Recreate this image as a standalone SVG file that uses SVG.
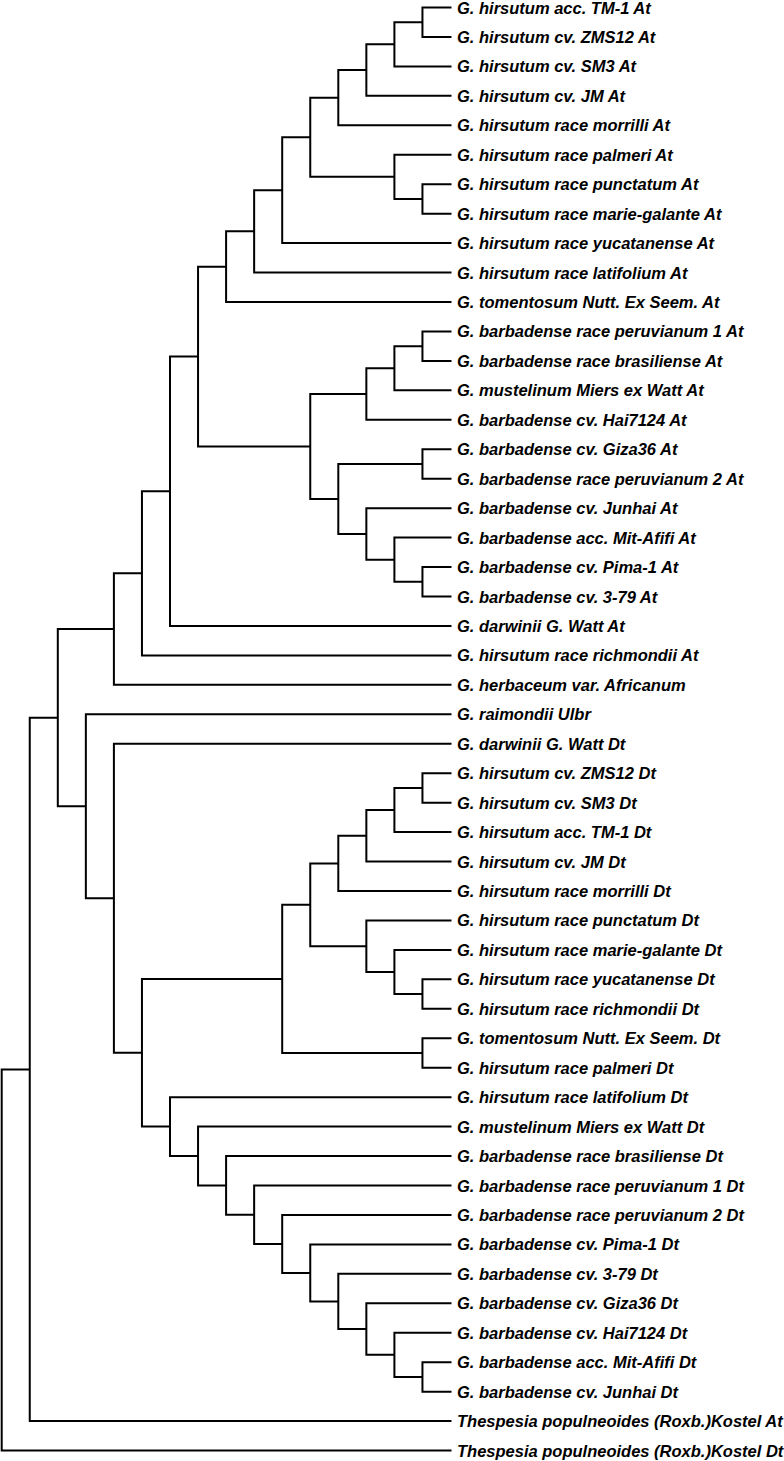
<svg xmlns="http://www.w3.org/2000/svg" width="784" height="1461" viewBox="0 0 784 1461">
<style>
.e{fill:none;stroke:#000;stroke-width:2;stroke-linejoin:miter}
text{font-family:"Liberation Sans",Arial,sans-serif;font-size:16.5px;font-weight:bold;font-style:italic;fill:#000}
</style>
<rect width="784" height="1461" fill="#fff"/>
<g id="connectors" class="e">
<path d="M451.5 7.5H422.45V36.95H451.5"/>
<path d="M422.45 22.23H394.4V66.4H451.5"/>
<path d="M394.4 44.31H366.35V95.85H451.5"/>
<path d="M366.35 70.08H338.3V125.3H451.5"/>
<path d="M451.5 184.2H422.45V213.65H451.5"/>
<path d="M451.5 154.75H394.4V198.93H422.45"/>
<path d="M338.3 97.69H310.25V176.84H394.4"/>
<path d="M310.25 137.26H282.2V243.1H451.5"/>
<path d="M282.2 190.18H254.15V272.55H451.5"/>
<path d="M254.15 231.37H226.1V302H451.5"/>
<path d="M451.5 331.45H422.45V360.9H451.5"/>
<path d="M422.45 346.18H394.4V390.35H451.5"/>
<path d="M394.4 368.26H366.35V419.8H451.5"/>
<path d="M451.5 449.25H422.45V478.7H451.5"/>
<path d="M451.5 567.05H422.45V596.5H451.5"/>
<path d="M451.5 537.6H394.4V581.78H422.45"/>
<path d="M451.5 508.15H366.35V559.69H394.4"/>
<path d="M422.45 463.98H338.3V533.92H366.35"/>
<path d="M366.35 394.03H310.25V498.95H338.3"/>
<path d="M226.1 266.68H198.05V446.49H310.25"/>
<path d="M198.05 356.59H170V625.95H451.5"/>
<path d="M170 491.27H141.95V655.4H451.5"/>
<path d="M141.95 573.34H113.9V684.85H451.5"/>
<path d="M451.5 773.2H422.45V802.65H451.5"/>
<path d="M422.45 787.93H394.4V832.1H451.5"/>
<path d="M394.4 810.01H366.35V861.55H451.5"/>
<path d="M366.35 835.78H338.3V891H451.5"/>
<path d="M451.5 979.35H422.45V1008.8H451.5"/>
<path d="M451.5 949.9H394.4V994.08H422.45"/>
<path d="M451.5 920.45H366.35V971.99H394.4"/>
<path d="M338.3 863.39H310.25V946.22H366.35"/>
<path d="M451.5 1038.25H422.45V1067.7H451.5"/>
<path d="M310.25 904.8H282.2V1052.98H422.45"/>
<path d="M451.5 1362.2H422.45V1391.65H451.5"/>
<path d="M451.5 1332.75H394.4V1376.93H422.45"/>
<path d="M451.5 1303.3H366.35V1354.84H394.4"/>
<path d="M451.5 1273.85H338.3V1329.07H366.35"/>
<path d="M451.5 1244.4H310.25V1301.46H338.3"/>
<path d="M451.5 1214.95H282.2V1272.93H310.25"/>
<path d="M451.5 1185.5H254.15V1243.94H282.2"/>
<path d="M451.5 1156.05H226.1V1214.72H254.15"/>
<path d="M451.5 1126.6H198.05V1185.39H226.1"/>
<path d="M451.5 1097.15H170V1156H198.05"/>
<path d="M282.2 978.89H141.95V1126.58H170"/>
<path d="M451.5 743.75H113.9V1052.74H141.95"/>
<path d="M451.5 714.3H85.85V898.25H113.9"/>
<path d="M113.9 629.1H57.8V806.28H85.85"/>
<path d="M57.8 717.69H29.75V1421.1H451.5"/>
<path d="M29.75 1069.4H1.7V1450.55H451.5"/>
</g>
<g id="leaf-0"><text x="457" y="13.5">G. hirsutum acc. TM-1 At</text></g>
<g id="leaf-1"><text x="457" y="42.95">G. hirsutum cv. ZMS12 At</text></g>
<g id="leaf-2"><text x="457" y="72.4">G. hirsutum cv. SM3 At</text></g>
<g id="leaf-3"><text x="457" y="101.85">G. hirsutum cv. JM At</text></g>
<g id="leaf-4"><text x="457" y="131.3">G. hirsutum race morrilli At</text></g>
<g id="leaf-5"><text x="457" y="160.75">G. hirsutum race palmeri At</text></g>
<g id="leaf-6"><text x="457" y="190.2">G. hirsutum race punctatum At</text></g>
<g id="leaf-7"><text x="457" y="219.65">G. hirsutum race marie-galante At</text></g>
<g id="leaf-8"><text x="457" y="249.1">G. hirsutum race yucatanense At</text></g>
<g id="leaf-9"><text x="457" y="278.55">G. hirsutum race latifolium At</text></g>
<g id="leaf-10"><text x="457" y="308">G. tomentosum Nutt. Ex Seem. At</text></g>
<g id="leaf-11"><text x="457" y="337.45">G. barbadense race peruvianum 1 At</text></g>
<g id="leaf-12"><text x="457" y="366.9">G. barbadense race brasiliense At</text></g>
<g id="leaf-13"><text x="457" y="396.35">G. mustelinum Miers ex Watt At</text></g>
<g id="leaf-14"><text x="457" y="425.8">G. barbadense cv. Hai7124 At</text></g>
<g id="leaf-15"><text x="457" y="455.25">G. barbadense cv. Giza36 At</text></g>
<g id="leaf-16"><text x="457" y="484.7">G. barbadense race peruvianum 2 At</text></g>
<g id="leaf-17"><text x="457" y="514.15">G. barbadense cv. Junhai At</text></g>
<g id="leaf-18"><text x="457" y="543.6">G. barbadense acc. Mit-Afifi At</text></g>
<g id="leaf-19"><text x="457" y="573.05">G. barbadense cv. Pima-1 At</text></g>
<g id="leaf-20"><text x="457" y="602.5">G. barbadense cv. 3-79 At</text></g>
<g id="leaf-21"><text x="457" y="631.95">G. darwinii G. Watt At</text></g>
<g id="leaf-22"><text x="457" y="661.4">G. hirsutum race richmondii At</text></g>
<g id="leaf-23"><text x="457" y="690.85">G. herbaceum var. Africanum</text></g>
<g id="leaf-24"><text x="457" y="720.3">G. raimondii Ulbr</text></g>
<g id="leaf-25"><text x="457" y="749.75">G. darwinii G. Watt Dt</text></g>
<g id="leaf-26"><text x="457" y="779.2">G. hirsutum cv. ZMS12 Dt</text></g>
<g id="leaf-27"><text x="457" y="808.65">G. hirsutum cv. SM3 Dt</text></g>
<g id="leaf-28"><text x="457" y="838.1">G. hirsutum acc. TM-1 Dt</text></g>
<g id="leaf-29"><text x="457" y="867.55">G. hirsutum cv. JM Dt</text></g>
<g id="leaf-30"><text x="457" y="897">G. hirsutum race morrilli Dt</text></g>
<g id="leaf-31"><text x="457" y="926.45">G. hirsutum race punctatum Dt</text></g>
<g id="leaf-32"><text x="457" y="955.9">G. hirsutum race marie-galante Dt</text></g>
<g id="leaf-33"><text x="457" y="985.35">G. hirsutum race yucatanense Dt</text></g>
<g id="leaf-34"><text x="457" y="1014.8">G. hirsutum race richmondii Dt</text></g>
<g id="leaf-35"><text x="457" y="1044.25">G. tomentosum Nutt. Ex Seem. Dt</text></g>
<g id="leaf-36"><text x="457" y="1073.7">G. hirsutum race palmeri Dt</text></g>
<g id="leaf-37"><text x="457" y="1103.15">G. hirsutum race latifolium Dt</text></g>
<g id="leaf-38"><text x="457" y="1132.6">G. mustelinum Miers ex Watt Dt</text></g>
<g id="leaf-39"><text x="457" y="1162.05">G. barbadense race brasiliense Dt</text></g>
<g id="leaf-40"><text x="457" y="1191.5">G. barbadense race peruvianum 1 Dt</text></g>
<g id="leaf-41"><text x="457" y="1220.95">G. barbadense race peruvianum 2 Dt</text></g>
<g id="leaf-42"><text x="457" y="1250.4">G. barbadense cv. Pima-1 Dt</text></g>
<g id="leaf-43"><text x="457" y="1279.85">G. barbadense cv. 3-79 Dt</text></g>
<g id="leaf-44"><text x="457" y="1309.3">G. barbadense cv. Giza36 Dt</text></g>
<g id="leaf-45"><text x="457" y="1338.75">G. barbadense cv. Hai7124 Dt</text></g>
<g id="leaf-46"><text x="457" y="1368.2">G. barbadense acc. Mit-Afifi Dt</text></g>
<g id="leaf-47"><text x="457" y="1397.65">G. barbadense cv. Junhai Dt</text></g>
<g id="leaf-48"><text x="457" y="1427.1">Thespesia populneoides (Roxb.)Kostel At</text></g>
<g id="leaf-49"><text x="457" y="1456.55">Thespesia populneoides (Roxb.)Kostel Dt</text></g>
</svg>
